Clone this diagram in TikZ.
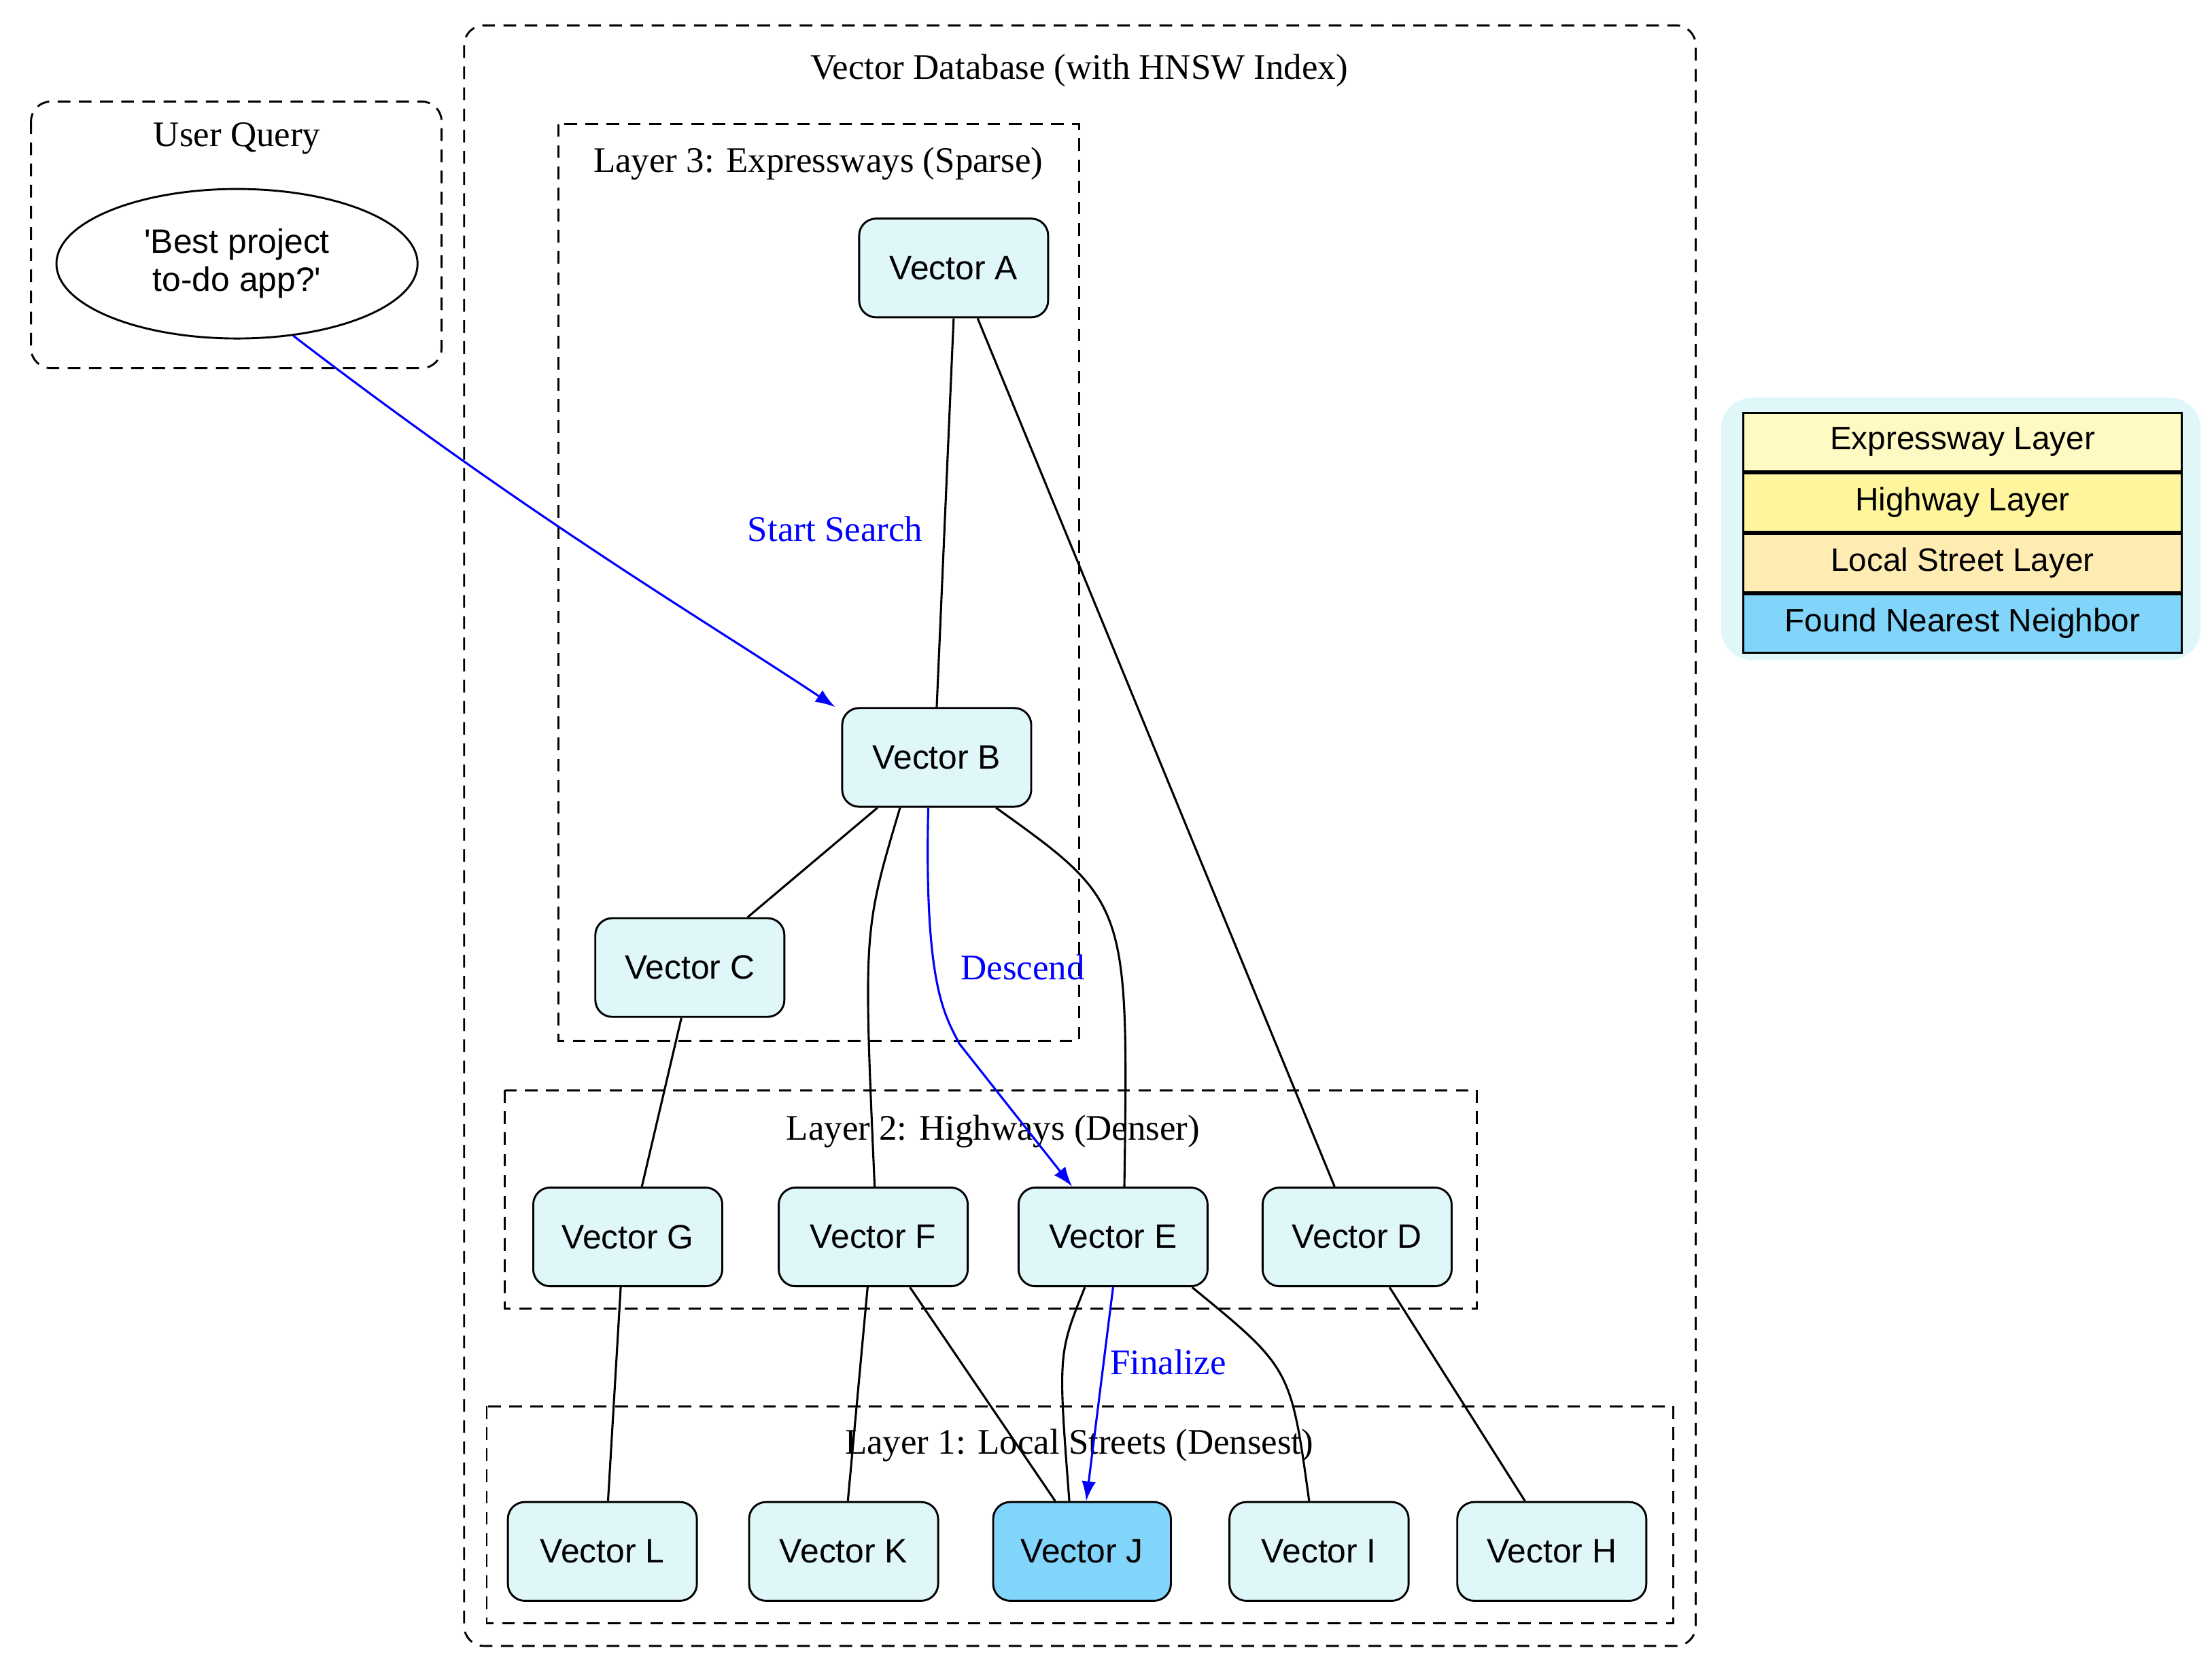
\documentclass[tikz,border=0pt]{standalone}
\usepackage{fontspec}
\setmainfont{Liberation Serif}
\newfontfamily\hv{Liberation Sans}
\usetikzlibrary{arrows.meta,shapes.geometric}
\definecolor{nodefill}{HTML}{E0F7FA}
\definecolor{found}{HTML}{81D4FA}
\begin{document}
\begin{tikzpicture}[x=1pt,y=-1pt,
 vec/.style={draw,rounded corners=12pt,fill=nodefill,minimum width=134pt,minimum height=70pt,font=\hv\fontsize{24}{28}\selectfont,line width=1.4pt},
 clus/.style={draw,line width=1.4pt,dash pattern=on 9pt off 6pt},
 clab/.style={font=\fontsize{25.5}{28}\selectfont},
 e/.style={line width=1.5pt},
 b/.style={line width=1.5pt,blue,-{Latex[length=14pt,width=10pt]}},
 blab/.style={blue,font=\fontsize{25.5}{28}\selectfont}]
\useasboundingbox (0,0) rectangle (1568,1191);
% clusters
\draw[clus,rounded corners=14pt] (22,72) rectangle (313,261);
\node[clab] (tq) at (168,98) {User Query};
\draw[clus,rounded corners=14pt] (329,18) rectangle (1202,1167);
\node[clab] (tdb) at (765,50) {Vector Database (with HNSW Index)};
\draw[clus] (396,88) rectangle (765,738);
\node[clab] (t3) at (580,116) {Layer 3: Expressways (Sparse)};
\draw[clus] (358,773) rectangle (1047,928);
\node[clab] (t2) at (704,802) {Layer 2: Highways (Denser)};
\draw[clus] (345,997) rectangle (1186,1151);
\node[clab] (t1) at (765,1025) {Layer 1: Local Streets (Densest)};
% nodes
\node[draw,ellipse,minimum width=256pt,minimum height=106pt,inner sep=0pt,line width=1.4pt,align=center,font=\hv\fontsize{24}{27}\selectfont] (q) at (168,187) {'Best project\\to-do app?'};
\node[vec] (A) at (676,190) {Vector A};
\node[vec] (B) at (664,537) {Vector B};
\node[vec] (C) at (489,686) {Vector C};
\node[vec] (G) at (445,877) {Vector G};
\node[vec] (F) at (619,877) {Vector F};
\node[vec] (E) at (789,877) {Vector E};
\node[vec] (D) at (962,877) {Vector D};
\node[vec] (L) at (427,1100) {Vector L};
\node[vec] (K) at (598,1100) {Vector K};
\node[vec,fill=found,minimum width=126pt] (J) at (767,1100) {Vector J};
\node[vec,minimum width=127pt] (I) at (935,1100) {Vector I};
\node[vec] (H) at (1100,1100) {Vector H};
% edges
\draw[e] (A.south) -- (B.north);
\draw[e] ([xshift=17pt]A.south) -- ([xshift=-16pt]D.north);
\draw[e] ([xshift=-42pt]B.south) -- ([xshift=41pt]C.north);
\draw[e] ([xshift=-26pt]B.south) .. controls (612,660) .. ([xshift=1pt]F.north);
\draw[e] ([xshift=42pt]B.south) .. controls (800,640) .. ([xshift=8pt]E.north);
\draw[b] ([xshift=-6pt]B.south) .. controls (655,700) and (670,720) .. (680,740) -- ([xshift=-29pt]E.north);
\node[blab] (ld) at (725,686) {Descend};
\draw[e] ([xshift=-6pt]C.south) -- ([xshift=10pt]G.north);
\draw[e] ([xshift=-5pt]G.south) -- ([xshift=4pt]L.north);
\draw[e] ([xshift=-4pt]F.south) -- ([xshift=3pt]K.north);
\draw[e] ([xshift=26pt]F.south) -- ([xshift=-19pt]J.north);
\draw[e] ([xshift=-20pt]E.south) .. controls (750,960) .. ([xshift=-9pt]J.north);
\draw[b] (E.south) -- ([xshift=3pt]J.north);
\node[blab] (lf) at (828,966) {Finalize};
\draw[e] ([xshift=56pt]E.south) .. controls (915,970) .. ([xshift=-7pt]I.north);
\draw[e] ([xshift=23pt]D.south) -- ([xshift=-19pt]H.north);
\draw[b] (q.-52) .. controls (380,370) and (500,440) .. ([xshift=-72pt]B.north);
\node[blab] (ls) at (592,375) {Start Search};
% legend
\fill[nodefill,rounded corners=22pt] (1220,282) rectangle (1560,468);
\begin{scope}[font=\hv\fontsize{23}{26}\selectfont,line width=1.4pt]
\node[draw,fill={rgb,255:red,255;green,249;blue,196},minimum width=311pt,minimum height=41.5pt,anchor=north west,inner sep=0pt] (r1) at (1235,292) {Expressway Layer};
\node[draw,fill={rgb,255:red,255;green,245;blue,157},minimum width=311pt,minimum height=41.5pt,anchor=north,inner sep=0pt] (r2) at (r1.south) {Highway Layer};
\node[draw,fill={rgb,255:red,255;green,236;blue,179},minimum width=311pt,minimum height=41.5pt,anchor=north,inner sep=0pt] (r3) at (r2.south) {Local Street Layer};
\node[draw,fill=found,minimum width=311pt,minimum height=41.5pt,anchor=north,inner sep=0pt] (r4) at (r3.south) {Found Nearest Neighbor};
\end{scope}
\end{tikzpicture}
\end{document}
